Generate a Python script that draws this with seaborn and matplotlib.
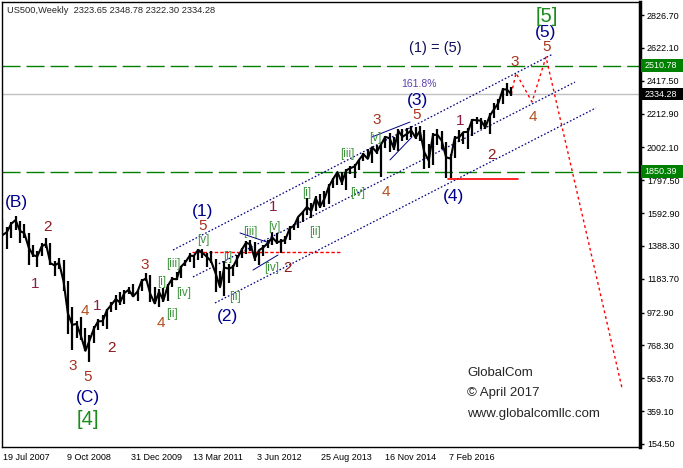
import numpy as np
import pandas as pd
import matplotlib
matplotlib.use("Agg")
from matplotlib import pyplot as plt
from matplotlib import transforms
from matplotlib.patches import Rectangle
import seaborn as sns

"""
US500 weekly chart with an Elliott wave count (GlobalCom, April 2017).
Price is drawn from monthly high / low / close bars, the wave labels and
channel lines sit on top in data coordinates.
"""

# monthly bars, Jul 2007 .. Apr 2017
highs = [1555.9, 1503.9, 1538.7, 1576.1, 1545.1, 1523.6,
         1471.8, 1396.0, 1359.7, 1404.6, 1440.2, 1404.1, 1292.2, 1313.2, 1303.0, 1167.0, 1007.5, 918.9,
         943.9, 875.0, 833.0, 888.7, 930.0, 956.2, 996.7, 1039.5, 1080.2, 1101.4, 1113.7, 1130.4,
         1150.5, 1112.4, 1180.2, 1219.8, 1206.0, 1131.2, 1121.0, 1129.2, 1148.9, 1196.1, 1227.1, 1262.6,
         1302.7, 1344.0, 1332.3, 1366.2, 1370.6, 1345.2, 1356.5, 1307.4, 1230.7, 1292.7, 1277.6, 1269.4,
         1333.5, 1378.0, 1419.2, 1422.4, 1415.3, 1363.5, 1391.7, 1426.7, 1474.5, 1471.0, 1434.3, 1448.0,
         1509.9, 1525.8, 1570.3, 1597.6, 1687.2, 1654.2, 1698.8, 1709.7, 1729.9, 1775.2, 1813.6, 1849.4,
         1850.8, 1867.9, 1884.0, 1897.3, 1924.0, 1968.2, 1991.4, 2005.0, 2019.3, 2018.2, 2075.8, 2093.6,
         2064.4, 2119.6, 2117.5, 2125.9, 2134.7, 2129.9, 2132.8, 2112.7, 2021.0, 2094.3, 2116.5, 2104.3,
         2038.2, 1963.0, 2072.2, 2111.0, 2099.1, 2120.6, 2177.1, 2193.8, 2187.9, 2169.6, 2214.1, 2277.5,
         2301.0, 2371.5, 2401.0, 2378.4]
lows = [1454.0, 1370.6, 1439.3, 1489.6, 1406.1, 1435.7,
        1270.0, 1316.8, 1257.0, 1324.4, 1373.1, 1272.0, 1200.4, 1247.5, 1106.4, 839.8, 741.0, 815.7,
        804.3, 734.5, 666.8, 783.3, 866.1, 888.9, 869.3, 978.5, 992.0, 1020.2, 1029.4, 1085.9,
        1071.6, 1044.5, 1105.2, 1170.7, 1040.8, 1028.3, 1010.9, 1039.7, 1048.1, 1131.9, 1173.0, 1186.6,
        1262.2, 1289.9, 1249.1, 1299.7, 1311.8, 1258.1, 1282.9, 1101.5, 1136.2, 1074.8, 1158.7, 1202.4,
        1258.9, 1312.4, 1340.0, 1357.4, 1292.0, 1266.7, 1325.4, 1374.8, 1396.6, 1403.3, 1343.4, 1398.1,
        1426.2, 1485.0, 1501.5, 1536.0, 1581.3, 1560.3, 1604.6, 1627.5, 1633.4, 1646.5, 1746.2, 1768.0,
        1770.5, 1737.9, 1834.4, 1814.4, 1859.8, 1916.0, 1930.7, 1904.8, 1964.0, 1820.7, 2001.0, 1972.6,
        1988.1, 1980.9, 2039.7, 2048.4, 2067.9, 2056.3, 2044.0, 1867.0, 1871.9, 1893.7, 2019.4, 1993.3,
        1812.3, 1810.1, 1937.1, 2033.8, 2025.9, 1991.7, 2074.0, 2147.6, 2119.1, 2114.7, 2083.8, 2187.4,
        2233.6, 2271.7, 2322.3, 2322.3]
closes = [1455.3, 1474.0, 1526.8, 1549.4, 1481.1, 1468.4,
          1378.6, 1330.6, 1322.7, 1385.6, 1400.4, 1280.0, 1267.4, 1282.8, 1166.4, 968.8, 896.2, 903.3,
          825.9, 735.1, 797.9, 872.8, 919.1, 919.3, 987.5, 1020.6, 1057.1, 1036.2, 1095.6, 1115.1,
          1073.9, 1104.5, 1169.4, 1186.7, 1089.4, 1030.7, 1101.6, 1049.3, 1141.2, 1183.3, 1180.6, 1257.6,
          1286.1, 1327.2, 1325.8, 1363.6, 1345.2, 1320.6, 1292.3, 1218.9, 1131.4, 1253.3, 1247.0, 1257.6,
          1312.4, 1365.7, 1408.5, 1397.9, 1310.3, 1362.2, 1379.3, 1406.6, 1440.7, 1412.2, 1416.2, 1426.2,
          1498.1, 1514.7, 1569.2, 1597.6, 1630.7, 1606.3, 1685.7, 1633.0, 1681.6, 1756.5, 1805.8, 1848.4,
          1782.6, 1859.5, 1872.3, 1884.0, 1923.6, 1960.2, 1930.7, 2003.4, 1972.3, 2018.1, 2067.6, 2058.9,
          1995.0, 2104.5, 2067.9, 2085.5, 2107.4, 2063.1, 2103.8, 1972.2, 1920.0, 2079.4, 2080.4, 2043.9,
          1940.2, 1932.2, 2059.7, 2065.3, 2097.0, 2098.9, 2173.6, 2171.0, 2168.3, 2126.2, 2198.8, 2238.8,
          2278.9, 2363.6, 2362.7, 2334.3]

tick_labels = ["19 Jul 2007", "9 Oct 2008", "31 Dec 2009", "13 Mar 2011",
               "3 Jun 2012", "25 Aug 2013", "16 Nov 2014", "7 Feb 2016"]
price_ticks = [154.50, 359.10, 563.70, 768.30, 972.90, 1183.70, 1388.30,
               1592.90, 1797.50, 2002.10, 2212.90, 2417.50, 2622.10, 2826.70]

resistance = 2510.78
support = 1850.39
last_price = 2334.28
header = "US500,Weekly  2323.65 2348.78 2322.30 2334.28"

# annotation x is in weeks after 19 Jul 2007 (one weekly bar per week)
navy_text = ["(B)", "(C)", "(1)", "(2)", "(3)", "(4)", "(5)"]
navy_week = [13, 85, 200, 225, 414, 450, 543]
navy_price = [1660, 447, 1600, 950, 2297, 1695, 2715]

minor_text = ["2", "1", "4", "1", "3", "5", "2", "3", "4", "5",
              "1", "2", "3", "5", "4", "1", "2", "3", "4", "5"]
minor_week = [45, 32, 82, 94, 70, 85, 109, 142, 158, 200,
              270, 285, 374, 414, 383, 457, 489, 512, 530, 544]
minor_price = [1506, 1151, 983, 1014, 640, 572, 753, 1270, 908, 1512,
               1631, 1251, 2173, 2204, 1724, 2167, 1955, 2534, 2191, 2627]

roman_text = ["[iii]", "[i]", "[iv]", "[ii]", "[v]", "[i]", "[ii]", "[iii]",
              "[iv]", "[v]", "[i]", "[ii]", "[iii]", "[iv]", "[v]"]
roman_week = [170, 159, 181, 169, 200, 225, 232, 247, 269, 271, 304, 312, 344, 355, 372]
roman_price = [1276, 1164, 1095, 964, 1425, 1319, 1070, 1475, 1251, 1506,
               1718, 1475, 1961, 1718, 2061]

primary_text = ["[4]", "[5]"]
primary_week = [85, 544]
primary_price = [304, 2820]

# dotted trend channel, two points per line
chan_week = [(170, 550), (190, 572), (212, 593)]
chan_price = [(1363, 2584), (1195, 2409), (1033, 2248)]
# short wedge lines
wedge_week = [(237, 267), (250, 275), (369, 407), (387, 409)]
wedge_price = [(1469, 1406), (1238, 1332), (2067, 2160), (1924, 2067)]

# projected path after the last bar
path_week = [513, 529, 543, 619]
path_price = [2465, 2285, 2565, 503]

level_dash = 1350
level_dash_week = (189, 337)
level_solid = 1803
level_solid_week = (445, 515)

digit_colors = {"1": "#8B1C48", "2": "#8B1A1A", "3": "#A8321E", "4": "#B4501E", "5": "#A8321E"}

start = pd.Timestamp("2007-07-19")


def weeks(w):
    return start + pd.to_timedelta(np.asarray(w) * 7, unit="D")


months = pd.date_range("2007-07-01", periods=len(closes), freq="MS") + pd.Timedelta(days=14)

sns.set_style("white")
plt.rcParams['font.family'] = ['Liberation Sans', 'DejaVu Sans']

fig = plt.figure(figsize=(6.83, 4.68), dpi=100)
ax = fig.add_axes([2 / 683, 21 / 468, 638 / 683, 445 / 468])

# price
ax.vlines(months, lows, highs, color="black", lw=1.6, zorder=3)
sns.lineplot(x=months, y=closes, color="black", lw=1.5, ax=ax, zorder=3)

# levels
ax.axhline(resistance, color="#008000", lw=1, dashes=(13, 4.3), zorder=2)
ax.axhline(support, color="#008000", lw=1, dashes=(13, 4.3), zorder=2)
ax.axhline(last_price, color="#C0C0C0", lw=1, zorder=1)

for wk, pr in zip(chan_week, chan_price):
    ax.plot(weeks(wk), pr, color="#000080", lw=0.9, ls=(0, (1.3, 1.6)), zorder=2)
for wk, pr in zip(wedge_week, wedge_price):
    ax.plot(weeks(wk), pr, color="#000080", lw=0.7, zorder=2)

ax.plot(weeks(level_dash_week), [level_dash, level_dash], color="red", lw=1, ls=(0, (2.5, 1.5)), zorder=2)
ax.plot(weeks(level_solid_week), [level_solid, level_solid], color="red", lw=1.2, zorder=2)

px = [months[-1]] + list(weeks(path_week))
py = [closes[-1]] + path_price
ax.plot(px, py, color="red", lw=1, ls=(0, (2, 2.2)), zorder=2)

# wave labels
for t, w, p in zip(navy_text, navy_week, navy_price):
    ax.text(weeks(w), p, t, color="#00008B", fontsize=12.5, ha="center", va="center")
for t, w, p in zip(minor_text, minor_week, minor_price):
    ax.text(weeks(w), p, t, color=digit_colors[t], fontsize=11, ha="center", va="center")
for t, w, p in zip(roman_text, roman_week, roman_price):
    ax.text(weeks(w), p, t, color="#3C943C", fontsize=8.5, ha="center", va="center")
for t, w, p in zip(primary_text, primary_week, primary_price):
    ax.text(weeks(w), p, t, color="#1C8C1C", fontsize=14.5, ha="center", va="center")

ax.text(weeks(432), 2621, "(1) = (5)", color="#10105A", fontsize=10.5, ha="center", va="center")
ax.text(weeks(416), 2397, "161.8%", color="#5A3FB0", fontsize=7.5, ha="center", va="center")

ax.text(0.008, 0.982, header, transform=ax.transAxes, fontsize=6.7, va="center", ha="left")
for yy, s in zip([0.166, 0.121, 0.074], ["GlobalCom", "\u00a9 April 2017", "www.globalcomllc.com"]):
    ax.text(0.729, yy, s, transform=ax.transAxes, fontsize=9.5, va="center", ha="left")

# axes
ax.set_xlim(start - pd.Timedelta(weeks=1), start + pd.Timedelta(weeks=637))
ax.set_ylim(135.8, 2907.7)
ax.set_xticks(pd.to_datetime(tick_labels, format="%d %b %Y"))
ax.set_xticklabels(tick_labels, ha="left")
ax.yaxis.tick_right()
ax.set_yticks(price_ticks)
ax.set_yticklabels([f"{v:.2f}" for v in price_ticks])
ax.tick_params(axis="x", direction="out", length=3, width=1, pad=1, labelsize=6.5, colors="black")
ax.tick_params(axis="y", direction="out", length=3, width=1, pad=2, labelsize=6.5, colors="black")
ax.set_xlabel("")
ax.set_ylabel("")
for side in ["left", "top", "bottom", "right"]:
    ax.spines[side].set_color("black")
    ax.spines[side].set_linewidth(1)
ax.spines["right"].set_linewidth(2.5)

# price tags in the right margin
trans = transforms.blended_transform_factory(ax.transAxes, ax.transData)
for val, fc in [(resistance, "#008000"), (support, "#008000"), (last_price, "black")]:
    ax.add_patch(Rectangle((1.002, val - 40), 0.07, 80, transform=trans, fc=fc, ec="none",
                           clip_on=False, zorder=4))
    ax.text(1.0075, val, f"{val:.2f}", transform=trans, fontsize=6.5, color="white", ha="left",
            va="center", clip_on=False, zorder=5)

fig.savefig("out.png", dpi=100)
